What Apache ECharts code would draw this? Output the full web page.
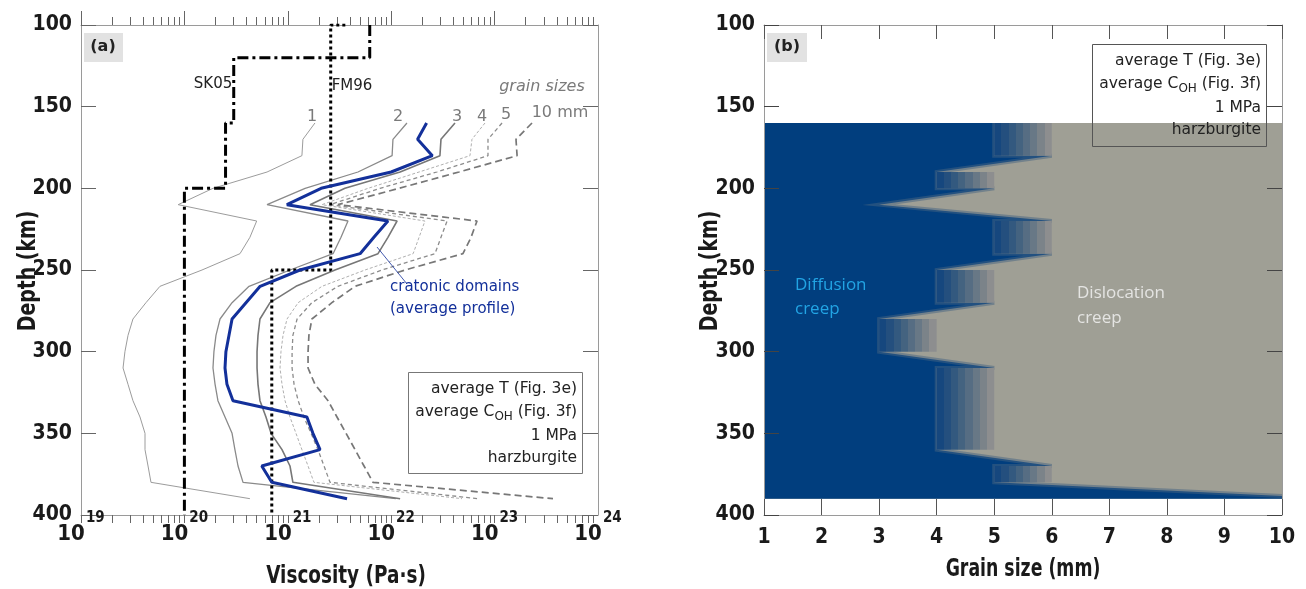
<!DOCTYPE html>
<html>
<head>
<meta charset="utf-8">
<script src="https://cdn.jsdelivr.net/npm/echarts@6/dist/echarts.min.js"></script>
<style>
  html, body { margin: 0; background: #fff; }
  #chart { width: 1306px; height: 589px; }
</style>
</head>
<body>
<div id="chart"></div>
<script>
// depth rows of the model profiles (km)
var depths = [160, 170, 180, 190, 200, 210, 220, 230, 240, 250, 260, 270,
              280, 290, 300, 310, 320, 330, 340, 350, 360, 370, 380, 390];

// viscosity (Pa s) for each grain size, one value per depth row
var grain1 = [1.83e21, 1.40e21, 1.37e21, 6.3e20, 1.89e20, 8.7e19, 5.0e20, 4.3e20, 3.45e20, 1.48e20, 5.8e19, 4.25e19,
              3.18e19, 2.85e19, 2.66e19, 2.55e19, 2.85e19, 3.18e19, 3.72e19, 4.16e19, 4.16e19, 4.45e19, 4.75e19, 4.3e20];
var grain2 = [1.42e22, 1.04e22, 1.02e22, 4.77e21, 1.47e21, 6.3e20, 3.82e21, 3.27e21, 2.74e21, 1.05e21, 4.22e20, 2.89e20,
              2.21e20, 2.02e20, 1.93e20, 1.89e20, 1.98e20, 2.11e20, 2.47e20, 2.89e20, 3.08e20, 3.30e20, 3.69e20, 1.11e22];
var grain3 = [4.14e22, 3.03e22, 2.96e22, 1.22e22, 3.57e21, 1.64e21, 1.14e22, 9.3e21, 7.45e21, 2.86e21, 1.20e21, 6.73e20,
              5.38e20, 5.15e20, 5.04e20, 5.04e20, 5.15e20, 5.38e20, 6.15e20, 6.89e20, 8.79e20, 1.05e21, 1.12e21, 1.22e22];
var grain4 = [8.07e22, 6.04e22, 5.78e22, 1.86e22, 5.97e21, 2.14e21, 2.12e22, 1.86e22, 1.63e22, 5.58e21, 2.14e21, 1.26e21,
              9.83e20, 8.99e20, 8.59e20, 8.41e20, 8.79e20, 9.40e20, 1.05e21, 1.20e21, 1.37e21, 1.57e21, 1.79e21, 4.84e22];
var grain5 = [1.18e23, 8.63e22, 8.63e22, 2.77e22, 7.80e21, 2.56e21, 3.47e22, 3.03e22, 2.65e22, 8.15e21, 3.05e21, 1.71e21,
              1.23e21, 1.12e21, 1.10e21, 1.10e21, 1.15e21, 1.26e21, 1.43e21, 1.68e21, 1.96e21, 2.24e21, 2.56e21, 6.90e22];
var grain10 = [2.30e23, 1.61e23, 1.65e23, 4.53e22, 1.19e22, 3.05e21, 6.76e22, 5.92e22, 4.94e22, 1.36e22, 4.47e21, 2.67e21,
               1.71e21, 1.60e21, 1.57e21, 1.57e21, 1.83e21, 2.45e21, 2.99e21, 3.66e21, 4.47e21, 5.46e21, 6.67e21, 3.67e23];
var cratonic = [2.2e22, 1.8e22, 2.5e22, 1.0e22, 2.1e21, 9.8e20, 9.3e21, 6.8e21, 5.0e21, 1.31e21, 5.4e20, 3.94e20,
                2.89e20, 2.70e20, 2.52e20, 2.47e20, 2.58e20, 2.95e20, 1.53e21, 1.75e21, 2.05e21, 5.6e20, 7.0e20, 3.74e21];

// reference profiles [viscosity, depth]
var sk05 = [[6.2e21, 100], [6.2e21, 120], [3.0e20, 120], [3.0e20, 160], [2.5e20, 160],
            [2.5e20, 200], [1.0e20, 200], [1.0e20, 400]];
var fm96 = [[3.6e21, 100], [2.6e21, 100], [2.6e21, 250], [7.0e20, 250], [7.0e20, 400]];

// panel (b): largest grain size (mm) still deforming by diffusion creep, per depth row
var diffusionMax = [5, 5, 5, 4, 4, 3, 5, 5, 5, 4, 4, 4, 3, 3, 3, 4, 4, 4, 4, 4, 4, 5, 5, 10];
var grainMin = 1, grainMax = 10;

// log axis decades; the top label sits a hair inside the extent so it is not dropped
var majorTicks = [1e19, 1e20, 1e21, 1e22, 1e23, 1e24];
var labelValues = [1e19, 1e20, 1e21, 1e22, 1e23, 0.9999e24];
var minorTicks = [];
for (var e = 19; e < 24; e++) {
  for (var m = 2; m <= 9; m++) minorTicks.push(m * Math.pow(10, e));
}

var condFont = "'Liberation Sans Narrow', 'DejaVu Sans Condensed', sans-serif";
var textFont = "'DejaVu Sans', sans-serif";
var axisGray = '#9a9a9a';
var tickGray = '#666';
var diffColor = '#013e7e';
var dislColor = '#9f9f95';
var stripes = ['#16477e', '#244f7e', '#33597f', '#446380', '#566d83', '#687886', '#7b8389', '#8d8e8f'];

function withDepth(vals) {
  return vals.map(function (v, i) { return [v, depths[i]]; });
}

var bandStops = [];
stripes.forEach(function (c, i) {
  bandStops.push({ offset: i / stripes.length, color: c });
  bandStops.push({ offset: (i + 1) / stripes.length, color: c });
});

function creepMap(params, api) {
  if (params.dataIndex !== 0) return null;
  var n = depths.length, top = depths[0], bot = depths[n - 1];
  var groups = [];
  depths.forEach(function (d, i) {
    var g = groups[groups.length - 1];
    if (g && g.t === diffusionMax[i]) g.d1 = d;
    else groups.push({ t: diffusionMax[i], d0: d, d1: d });
  });
  var edge = [];
  groups.forEach(function (g, k) {
    edge.push([g.t, g.d0], [g.t, g.d1]);
    var nx = groups[k + 1];
    if (!nx) return;
    if (nx.t < g.t) edge.push([g.t + 1, g.d1]);
    else edge.push([nx.t + 1, nx.d0]);
  });
  var px = function (p) { return api.coord(p); };
  var kids = [];
  var tl = api.coord([grainMin, top]), br = api.coord([grainMax, bot]);
  kids.push({ type: 'rect', shape: { x: tl[0], y: tl[1], width: br[0] - tl[0], height: br[1] - tl[1] },
              style: { fill: dislColor } });
  var poly = [[grainMin, top]].concat(edge, [[grainMin, bot]]).map(px);
  kids.push({ type: 'polygon', shape: { points: poly }, style: { fill: diffColor } });
  kids.push({ type: 'polyline', shape: { points: edge.map(px) },
              style: { stroke: 'rgba(70,100,130,0.5)', lineWidth: 4, fill: null } });
  groups.forEach(function (g) {
    if (g.d1 === g.d0 || g.t >= grainMax) return;
    var a = api.coord([g.t, g.d0]), b = api.coord([g.t + 1, g.d1]);
    kids.push({ type: 'rect', shape: { x: a[0], y: a[1], width: b[0] - a[0], height: b[1] - a[1] },
                style: { fill: { type: 'linear', x: 0, y: 0, x2: 1, y2: 0, colorStops: bandStops } } });
  });
  return { type: 'group', children: kids };
}

function lineSeries(name, data, color, width, type) {
  return {
    name: name, type: 'line', xAxisIndex: 0, yAxisIndex: 0, data: data,
    showSymbol: false, symbol: 'none', silent: true,
    lineStyle: { color: color, width: width, type: type || 'solid', cap: 'butt' }
  };
}

function txt(x, y, text, opt) {
  opt = opt || {};
  return {
    type: 'text', x: x, y: y, rotation: opt.rotation || 0, scaleX: opt.scaleX || 1, z: 100,
    style: {
      text: text, fill: opt.color || '#222', align: opt.align || 'center', verticalAlign: 'middle',
      font: opt.font || ('15.5px ' + textFont), rich: opt.rich
    }
  };
}

var depthLabel = { fontFamily: condFont, fontWeight: 'bold', fontSize: 21, color: '#1a1a1a', margin: 9 };
var subRich = { sub: { fontSize: 12, fontFamily: textFont, padding: [10, 0, 0, 0], fill: '#222' } };
var titleFont = 'bold 25px ' + condFont;

var chart = echarts.init(document.getElementById('chart'), null, { renderer: 'canvas' });
chart.setOption({
  animation: false,
  backgroundColor: '#fff',
  textStyle: { fontFamily: textFont },
  grid: [
    { left: 81, top: 25, width: 517, height: 490 },
    { left: 764, top: 25, width: 518, height: 490 },
    { left: 81, top: 25, width: 517, height: 490 }
  ],
  xAxis: [
    {
      gridIndex: 0, type: 'log', logBase: 10, min: 1e19, max: 1e24, position: 'bottom',
      axisLine: { lineStyle: { color: axisGray } },
      axisTick: { customValues: majorTicks.concat(minorTicks), length: 8, lineStyle: { color: tickGray } },
      axisLabel: {
        customValues: labelValues, margin: -4, showMinLabel: true, showMaxLabel: true, hideOverlap: false,
        formatter: function (v) { return '{b|10}{e|' + Math.round(Math.log10(v)) + '}'; },
        rich: {
          b: { fontFamily: condFont, fontWeight: 'bold', fontSize: 22, color: '#1a1a1a', verticalAlign: 'bottom' },
          e: { fontFamily: condFont, fontWeight: 'bold', fontSize: 15, color: '#1a1a1a', verticalAlign: 'bottom', padding: [0, 0, 19, 1] }
        }
      },
      splitLine: { show: false }
    },
    {
      gridIndex: 0, type: 'log', logBase: 10, min: 1e19, max: 1e24, position: 'top',
      axisLine: { lineStyle: { color: axisGray } },
      axisTick: { customValues: majorTicks, length: 14, lineStyle: { color: tickGray } },
      axisLabel: { show: false }, splitLine: { show: false }
    },
    {
      gridIndex: 2, type: 'log', logBase: 10, min: 1e19, max: 1e24, position: 'top',
      axisLine: { show: false },
      axisTick: { customValues: minorTicks, length: 8, lineStyle: { color: tickGray } },
      axisLabel: { show: false }, splitLine: { show: false }
    },
    {
      gridIndex: 1, type: 'value', min: 1, max: 10, interval: 1, position: 'bottom', z: 10,
      axisLine: { show: true, lineStyle: { color: axisGray } },
      axisTick: { show: true, inside: true, length: 16, lineStyle: { color: '#555' } },
      axisLabel: { fontFamily: condFont, fontWeight: 'bold', fontSize: 21, color: '#1a1a1a', margin: 12 },
      splitLine: { show: false }
    },
    {
      gridIndex: 1, type: 'value', min: 1, max: 10, interval: 1, position: 'top', z: 10,
      axisLine: { show: true, lineStyle: { color: axisGray } },
      axisTick: { show: true, inside: true, length: 14, lineStyle: { color: '#555' } },
      axisLabel: { show: false }, splitLine: { show: false }
    }
  ],
  yAxis: [
    {
      gridIndex: 0, type: 'value', inverse: true, min: 100, max: 400, interval: 50, position: 'left',
      axisLine: { show: true, lineStyle: { color: axisGray } },
      axisTick: { show: true, inside: true, length: 15, lineStyle: { color: tickGray } },
      axisLabel: depthLabel, splitLine: { show: false }
    },
    {
      gridIndex: 0, type: 'value', inverse: true, min: 100, max: 400, interval: 50, position: 'right',
      axisLine: { show: true, lineStyle: { color: axisGray } },
      axisTick: { show: true, inside: true, length: 15, lineStyle: { color: tickGray } },
      axisLabel: { show: false }, splitLine: { show: false }
    },
    { gridIndex: 2, type: 'value', inverse: true, min: 100, max: 400, show: false },
    {
      gridIndex: 1, type: 'value', inverse: true, min: 100, max: 400, interval: 50, position: 'left', z: 10,
      axisLine: { show: true, lineStyle: { color: axisGray } },
      axisTick: { show: true, inside: true, length: 15, lineStyle: { color: '#444' } },
      axisLabel: depthLabel, splitLine: { show: false }
    },
    {
      gridIndex: 1, type: 'value', inverse: true, min: 100, max: 400, interval: 50, position: 'right', z: 10,
      axisLine: { show: true, lineStyle: { color: axisGray } },
      axisTick: { show: true, inside: true, length: 15, lineStyle: { color: '#444' } },
      axisLabel: { show: false }, splitLine: { show: false }
    }
  ],
  series: [
    lineSeries('1', withDepth(grain1), '#9c9c9c', 1),
    lineSeries('2', withDepth(grain2), '#8a8a8a', 1.3),
    lineSeries('3', withDepth(grain3), '#777', 1.6),
    lineSeries('4', withDepth(grain4), '#b0b0b0', 1, [3, 2]),
    lineSeries('5', withDepth(grain5), '#8c8c8c', 1.3, [4, 3]),
    lineSeries('10 mm', withDepth(grain10), '#777', 1.7, [7, 4]),
    lineSeries('SK05', sk05, '#000', 3, [11, 4, 3, 4]),
    lineSeries('FM96', fm96, '#000', 3, [3, 3]),
    lineSeries('cratonic domains', withDepth(cratonic), '#13309a', 3),
    {
      type: 'custom', xAxisIndex: 3, yAxisIndex: 3, clip: true, silent: true,
      data: [[grainMin, depths[0]]], encode: { x: 0, y: 1 },
      renderItem: creepMap
    }
  ],
  graphic: { elements: [
    // axis titles
    txt(28, 271, 'Depth (km)', { rotation: Math.PI / 2, font: titleFont, color: '#1a1a1a', scaleX: 0.84 }),
    txt(710, 271, 'Depth (km)', { rotation: Math.PI / 2, font: titleFont, color: '#1a1a1a', scaleX: 0.84 }),
    txt(346, 576, 'Viscosity (Pa\u00b7s)', { font: titleFont, color: '#1a1a1a', scaleX: 0.82 }),
    txt(1023, 569, 'Grain size (mm)', { font: titleFont, color: '#1a1a1a', scaleX: 0.77 }),
    // panel tags
    { type: 'rect', shape: { x: 84, y: 33, width: 39, height: 29 }, style: { fill: '#e2e2e2' }, z: 99 },
    txt(103, 47, '(a)', { font: 'bold 16px ' + textFont }),
    { type: 'rect', shape: { x: 767, y: 33, width: 40, height: 29 }, style: { fill: '#e2e2e2' }, z: 99 },
    txt(787, 47, '(b)', { font: 'bold 16px ' + textFont }),
    // panel (a) annotations
    txt(213, 84, 'SK05', { font: '15px ' + textFont }),
    txt(352, 86, 'FM96', { font: '15px ' + textFont }),
    txt(542, 87, 'grain sizes', { font: 'italic 16px ' + textFont, color: '#7a7a7a' }),
    txt(312, 117, '1', { font: '16px ' + textFont, color: '#7a7a7a' }),
    txt(398, 117, '2', { font: '16px ' + textFont, color: '#7a7a7a' }),
    txt(457, 117, '3', { font: '16px ' + textFont, color: '#7a7a7a' }),
    txt(482, 117, '4', { font: '16px ' + textFont, color: '#7a7a7a' }),
    txt(506, 115, '5', { font: '16px ' + textFont, color: '#7a7a7a' }),
    txt(560, 113, '10 mm', { font: '16px ' + textFont, color: '#7a7a7a' }),
    { type: 'line', shape: { x1: 377, y1: 247, x2: 407, y2: 284 }, style: { stroke: '#13309a', lineWidth: 0.8 }, z: 99 },
    txt(390, 287, 'cratonic domains', { align: 'left', font: '15px ' + textFont, color: '#13309a' }),
    txt(390, 309, '(average profile)', { align: 'left', font: '15px ' + textFont, color: '#13309a' }),
    // info boxes
    { type: 'rect', shape: { x: 408.5, y: 372.5, width: 174, height: 101 }, style: { fill: null, stroke: '#777', lineWidth: 1 }, z: 99 },
    txt(577, 389, 'average T (Fig. 3e)', { align: 'right' }),
    txt(577, 412, 'average C{sub|OH} (Fig. 3f)', { align: 'right', rich: subRich }),
    txt(577, 436, '1 MPa', { align: 'right' }),
    txt(577, 458, 'harzburgite', { align: 'right' }),
    { type: 'rect', shape: { x: 1092.5, y: 44.5, width: 174, height: 102 }, style: { fill: null, stroke: '#555', lineWidth: 1 }, z: 99 },
    txt(1261, 61, 'average T (Fig. 3e)', { align: 'right' }),
    txt(1261, 84, 'average C{sub|OH} (Fig. 3f)', { align: 'right', rich: subRich }),
    txt(1261, 108, '1 MPa', { align: 'right' }),
    txt(1261, 130, 'harzburgite', { align: 'right' }),
    // panel (b) regime names
    txt(795, 285, 'Diffusion', { align: 'left', font: '17px \'Open Sans\', sans-serif', color: '#22a4e4' }),
    txt(795, 309, 'creep', { align: 'left', font: '17px \'Open Sans\', sans-serif', color: '#22a4e4' }),
    txt(1077, 293, 'Dislocation', { align: 'left', font: '17px \'Open Sans\', sans-serif', color: '#e4e4e2' }),
    txt(1077, 318, 'creep', { align: 'left', font: '17px \'Open Sans\', sans-serif', color: '#e4e4e2' })
  ] }
});
</script>
</body>
</html>
